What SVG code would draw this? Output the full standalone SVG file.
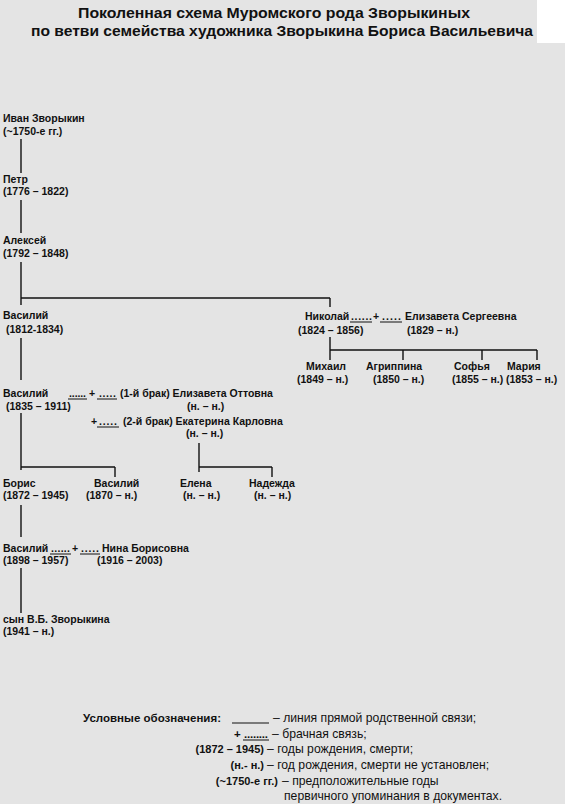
<svg xmlns="http://www.w3.org/2000/svg" width="565" height="804" viewBox="0 0 565 804">
<defs>
<style>
text{font-family:"Liberation Sans",Arial,sans-serif;font-weight:bold;font-size:10.5px;fill:#111}
.t{font-size:15px}
.r{font-weight:normal;font-size:12.2px}
.l{font-size:11.5px}
.k{font-size:11px}
.c line,.u{stroke:#111;stroke-width:1.4;fill:none}
.u{stroke-width:1}
</style>
</defs>
<rect width="565" height="804" fill="#e4e4e4"/>
<rect x="537" y="0" width="28" height="43" fill="#ffffff"/>
<g id="title">
<text class="t" x="78" y="18" textLength="392" lengthAdjust="spacingAndGlyphs">Поколенная схема Муромского рода Зворыкиных</text>
<text class="t" x="31" y="36" textLength="502" lengthAdjust="spacingAndGlyphs">по ветви семейства художника Зворыкина Бориса Васильевича</text>
</g>
<g id="connectors" class="c">
<line x1="21" y1="139" x2="21" y2="173"/>
<line x1="21" y1="200" x2="21" y2="233"/>
<line x1="21" y1="262" x2="21" y2="305"/>
<line x1="21" y1="298" x2="330" y2="298"/>
<line x1="330" y1="298" x2="330" y2="307"/>
<line x1="21" y1="338" x2="21" y2="380"/>
<line x1="21" y1="413" x2="21" y2="470"/>
<line x1="21" y1="467" x2="115" y2="467"/>
<line x1="115" y1="467" x2="115" y2="477"/>
<line x1="21" y1="505" x2="21" y2="537"/>
<line x1="21" y1="568" x2="21" y2="613"/>
<line x1="330" y1="337" x2="330" y2="360"/>
<line x1="330" y1="350" x2="537" y2="350"/>
<line x1="403" y1="350" x2="403" y2="360"/>
<line x1="482" y1="350" x2="482" y2="360"/>
<line x1="537" y1="350" x2="537" y2="360"/>
<line x1="199" y1="443" x2="199" y2="472"/>
<line x1="199" y1="467" x2="272" y2="467"/>
<line x1="272" y1="467" x2="272" y2="477"/>
</g>
<g id="ivan"><text x="3" y="122">Иван Зворыкин</text><text x="3" y="135">(~1750-е гг.)</text></g>
<g id="petr"><text x="3" y="183">Петр</text><text x="3" y="195">(1776 – 1822)</text></g>
<g id="aleksey"><text x="3" y="244">Алексей</text><text x="3" y="257">(1792 – 1848)</text></g>
<g id="vasiliy1812"><text x="3" y="319">Василий</text><text x="6" y="333">(1812-1834)</text></g>
<g id="nikolay"><text x="305" y="320">Николай</text><text x="298" y="334">(1824 – 1856)</text></g>
<g id="marriage-nikolay">
<text x="351" y="320" textLength="21" lengthAdjust="spacing">......</text><line class="u" x1="350" y1="322" x2="372" y2="322"/>
<text x="373" y="320">+</text>
<text x="382" y="320" textLength="19" lengthAdjust="spacing">.....</text><line class="u" x1="380" y1="322" x2="402" y2="322"/>
</g>
<g id="elizaveta-s"><text x="405" y="320">Елизавета Сергеевна</text><text x="407" y="334">(1829 – н.)</text></g>
<g id="mikhail"><text x="306" y="370">Михаил</text><text x="297" y="383">(1849 – н.)</text></g>
<g id="agrippina"><text x="366" y="370">Агриппина</text><text x="373" y="383">(1850 – н.)</text></g>
<g id="sofya"><text x="454" y="370">Софья</text><text x="452" y="383">(1855 – н.)</text></g>
<g id="mariya"><text x="507" y="370">Мария</text><text x="506" y="383">(1853 – н.)</text></g>
<g id="vasiliy1835"><text x="3" y="397">Василий</text><text x="6" y="410">(1835 – 1911)</text></g>
<g id="marriage1">
<text x="69" y="397" textLength="17" lengthAdjust="spacing">......</text><line class="u" x1="68" y1="399" x2="87" y2="399"/>
<text x="89" y="397">+</text>
<text x="99" y="397" textLength="17" lengthAdjust="spacing">.....</text><line class="u" x1="97" y1="399" x2="117" y2="399"/>
</g>
<g id="elizaveta-o"><text x="120" y="397">(1-й брак) Елизавета  Оттовна</text><text x="187" y="410">(н. – н.)</text></g>
<g id="marriage2">
<text x="91" y="425">+</text>
<text x="99" y="425" textLength="18" lengthAdjust="spacing">.....</text><line class="u" x1="97" y1="427" x2="119" y2="427"/>
</g>
<g id="ekaterina"><text x="123" y="425">(2-й брак) Екатерина Карловна</text><text x="186" y="437">(н. – н.)</text></g>
<g id="boris"><text x="3" y="487">Борис</text><text x="3" y="499">(1872 – 1945)</text></g>
<g id="vasiliy1870"><text x="94" y="487">Василий</text><text x="86" y="499">(1870 – н.)</text></g>
<g id="elena"><text x="180" y="487">Елена</text><text x="183" y="499">(н. – н.)</text></g>
<g id="nadezhda"><text x="249" y="487">Надежда</text><text x="254" y="499">(н. – н.)</text></g>
<g id="vasiliy1898"><text x="3" y="552">Василий</text><text x="3" y="564">(1898 – 1957)</text></g>
<g id="marriage3">
<text x="51" y="552" textLength="19" lengthAdjust="spacing">......</text><line class="u" x1="50" y1="554" x2="71" y2="554"/>
<text x="72" y="552">+</text>
<text x="81" y="552" textLength="18" lengthAdjust="spacing">.....</text><line class="u" x1="80" y1="554" x2="100" y2="554"/>
</g>
<g id="nina"><text x="102" y="552">Нина Борисовна</text><text x="97" y="564">(1916 – 2003)</text></g>
<g id="son"><text x="3" y="623">сын В.Б. Зворыкина</text><text x="3" y="635">(1941 – н.)</text></g>
<g id="legend">
<text class="l" x="83" y="722" textLength="138" lengthAdjust="spacingAndGlyphs">Условные обозначения:</text>
<line class="u" x1="232" y1="723" x2="269" y2="723"/>
<text class="r" x="273" y="722">– линия прямой родственной связи;</text>
<text class="l" x="234" y="738">+</text>
<text class="l" x="244" y="738" textLength="24" lengthAdjust="spacing">........</text><line class="u" x1="243" y1="740" x2="269" y2="740"/>
<text class="r" x="272" y="738">– брачная связь;</text>
<text class="k" x="264" y="753" text-anchor="end">(1872 – 1945)</text>
<text class="r" x="267" y="753">– годы рождения, смерти;</text>
<text class="k" x="264" y="769" text-anchor="end">(н.- н.)</text>
<text class="r" x="267" y="769">– год рождения, смерти не установлен;</text>
<text class="k" x="278" y="785" text-anchor="end">(~1750-е гг.)</text>
<text class="r" x="282" y="785">– предположительные годы</text>
<text class="r" x="284" y="800">первичного упоминания в документах.</text>
</g>
</svg>
